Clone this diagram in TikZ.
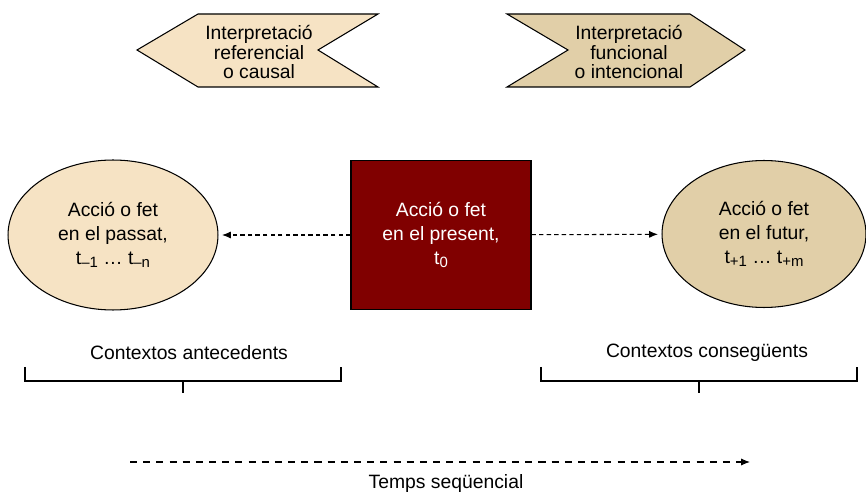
\documentclass[tikz,border=0pt]{standalone}
\usepackage{fontspec}
\setmainfont{Liberation Sans}
\usetikzlibrary{shapes.geometric,arrows.meta}
\definecolor{peach}{RGB}{246,227,196}
\definecolor{sand}{RGB}{225,207,168}
\definecolor{wine}{RGB}{128,0,0}
\newcommand{\tsub}[1]{\raisebox{-0.3ex}{\fontsize{8.5}{9}\selectfont #1}}
\begin{document}
\begin{tikzpicture}[x=0.02cm,y=-0.02cm,line width=0.6pt,
    every node/.style={font=\fontsize{11}{13.6}\selectfont,align=center},
    chev/.style={font=\fontsize{11}{11.3}\selectfont},
    oval/.style={ellipse,draw,minimum width=4.2cm,minimum height=3cm,inner sep=0pt},
    now/.style={draw,fill=wine,text=white,minimum width=3.6cm,minimum height=2.98cm},
    link/.style={dash pattern=on 2.5pt off 1.8pt,-{Latex[length=5pt,width=4pt]}}]
        \useasboundingbox (0,0) rectangle (866,493);
        % chevrons
        \coordinate (A1) at (137,50);
        \coordinate (A2) at (198,14);
        \coordinate (A3) at (378,14);
        \coordinate (A4) at (318,50);
        \coordinate (A5) at (378,87);
        \coordinate (A6) at (198,87);
        \draw[fill=peach] (A1) -- (A2) -- (A3) -- (A4) -- (A5) -- (A6) -- cycle;
        \node[chev] (IR) at (259,52) {Interpretació\\referencial\\o causal};

        \coordinate (B1) at (507,14);
        \coordinate (B2) at (690,14);
        \coordinate (B3) at (745,50);
        \coordinate (B4) at (690,87);
        \coordinate (B5) at (507,87);
        \coordinate (B6) at (568,50);
        \draw[fill=sand] (B1) -- (B2) -- (B3) -- (B4) -- (B5) -- (B6) -- cycle;
        \node[chev] (IF) at (629,52) {Interpretació\\funcional\\o intencional};

        % actions
        \node[oval,fill=peach] (P) at (113,235) {Acció o fet\\en el passat,\\t\tsub{–1} \dots\ t\tsub{–n}};
        \node[now] (N) at (441,235) {Acció o fet\\en el present,\\t\tsub{0}};
        \node[oval,fill=sand,minimum width=4.08cm,minimum height=2.94cm] (F) at (764,234) {Acció o fet\\en el futur,\\t\tsub{+1} \dots\ t\tsub{+m}};

        \draw[link,shorten >=2pt] (N) -- (P);
        \draw[link,shorten >=2pt] (N) -- (F);

        % contexts
        \node (CA) at (189,353) {Contextos antecedents};
        \coordinate (C1) at (25,367);
        \coordinate (C2) at (25,381);
        \coordinate (C3) at (341,381);
        \coordinate (C4) at (341,367);
        \draw (C1) -- (C2) -- (C3) -- (C4);
        \draw (183,381) -- (183,393);

        \node (CC) at (707,353) {Contextos consegüents};
        \coordinate (D1) at (541,367);
        \coordinate (D2) at (541,381);
        \coordinate (D3) at (857,381);
        \coordinate (D4) at (857,367);
        \draw (D1) -- (D2) -- (D3) -- (D4);
        \draw (699,381) -- (699,393);

        % time
        \coordinate (T1) at (130,462);
        \coordinate (T2) at (750,462);
        \draw[dash pattern=on 4pt off 3.5pt,-{Latex[length=5pt,width=4pt]}] (T1) -- (T2);
        \node (T) at (446,484) {Temps seqüencial};
\end{tikzpicture}
\end{document}
